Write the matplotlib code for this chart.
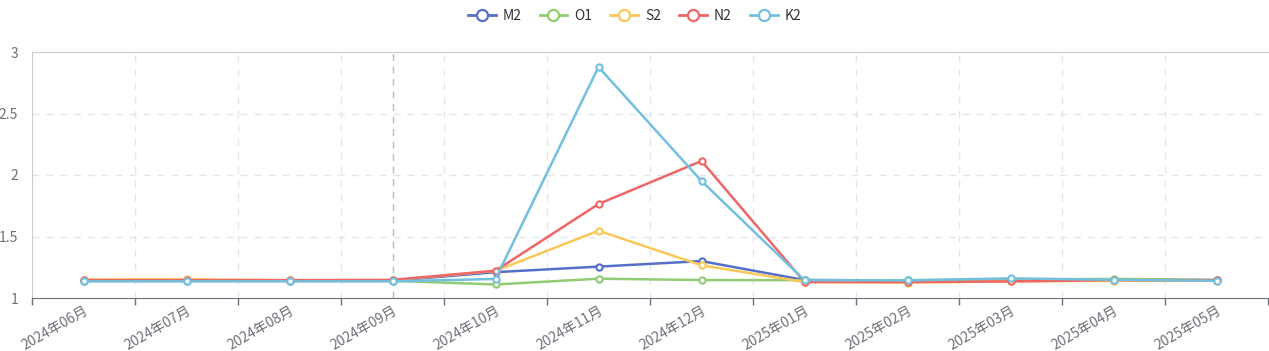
import matplotlib.pyplot as plt
from matplotlib.lines import Line2D

plt.rcParams['font.family'] = ['Noto Sans CJK SC', 'DejaVu Sans']

months = ['2024年06月', '2024年07月', '2024年08月', '2024年09月', '2024年10月', '2024年11月',
          '2024年12月', '2025年01月', '2025年02月', '2025年03月', '2025年04月', '2025年05月']
m2 = [1.14, 1.14, 1.14, 1.14, 1.21, 1.255, 1.30, 1.146, 1.143, 1.148, 1.15, 1.145]
o1 = [1.145, 1.145, 1.14, 1.14, 1.11, 1.157, 1.146, 1.145, 1.145, 1.15, 1.155, 1.148]
s2 = [1.15, 1.152, 1.145, 1.145, 1.22, 1.547, 1.266, 1.13, 1.125, 1.135, 1.14, 1.14]
n2 = [1.145, 1.145, 1.145, 1.147, 1.222, 1.764, 2.114, 1.13, 1.13, 1.135, 1.145, 1.145]
k2 = [1.135, 1.135, 1.135, 1.135, 1.155, 2.878, 1.951, 1.145, 1.143, 1.16, 1.148, 1.14]

series = {'M2': m2, 'O1': o1, 'S2': s2, 'N2': n2, 'K2': k2}
colors = ['#5470c6', '#91cc75', '#fac858', '#ee6666', '#73c0de']

fig = plt.figure(figsize=(12.69, 3.51), dpi=100)
ax = fig.add_axes([32 / 1269, 53 / 351, 1236 / 1269, 246 / 351])

x = list(range(len(months)))
handles = []
for (name, vals), c in zip(series.items(), colors):
    ax.plot(x, vals, color=c, lw=1.8, marker='o', ms=4.5, mfc='white', mec=c, mew=1.5,
            zorder=3)
    handles.append(Line2D([], [], color=c, lw=2, marker='o', ms=8, mfc='white',
                          mec=c, mew=1.6, label=name))

ax.set_xlim(-0.5, len(months) - 0.5)
ax.set_ylim(1, 3)
ax.set_yticks([1, 1.5, 2, 2.5, 3])
ax.set_yticklabels(['1', '1.5', '2', '2.5', '3'])

# category boundaries for ticks and vertical grid
ax.set_xticks([i - 0.5 for i in range(len(months) + 1)], minor=False)
ax.set_xticklabels([])
ax.set_xticks(x, minor=True)
ax.set_xticklabels(months, minor=True, rotation=30, ha='right', rotation_mode='anchor')
ax.tick_params(axis='x', which='major', length=5, color='#6e7079', width=1)
ax.tick_params(axis='x', which='minor', length=0, pad=4, labelsize=10, labelcolor='#6e7079')
ax.tick_params(axis='y', length=0, pad=10, labelsize=10, labelcolor='#6e7079')

for i in range(1, len(months)):
    ax.axvline(i - 0.5, color='#e0e6f1', lw=1, ls=(0, (5, 5)), zorder=1)
for yv in [1.5, 2, 2.5]:
    ax.axhline(yv, color='#e0e6f1', lw=1, ls=(0, (5, 5)), zorder=1)
ax.axvline(3, color='#bbbbbb', lw=1, ls=(0, (5, 4)), zorder=2)

for s in ['left', 'top']:
    ax.spines[s].set_color('#cccccc')
ax.spines['right'].set_visible(False)
ax.spines['bottom'].set_color('#6e7079')

fig.legend(handles=handles, loc='upper center', bbox_to_anchor=(0.5, 1.01), ncol=5,
           frameon=False, fontsize=10, handlelength=2.0, columnspacing=1.3,
           handletextpad=0.5, labelcolor='#333333')

fig.savefig('out.png', dpi=100)
